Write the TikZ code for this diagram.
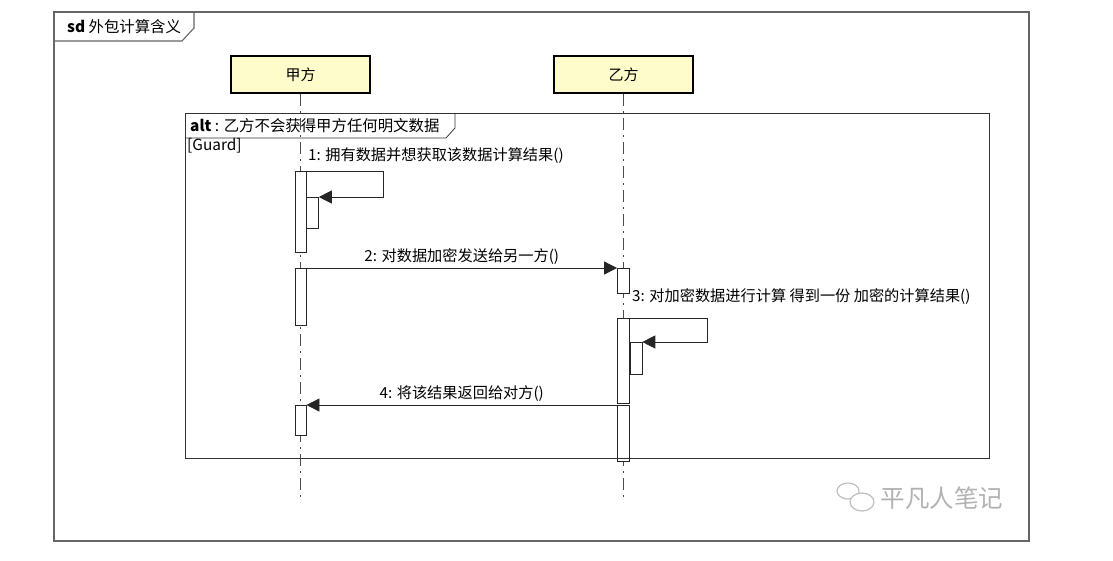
\documentclass[tikz,border=0pt]{standalone}
\usepackage{fontspec}
\setmainfont{Noto Sans CJK SC}
\usetikzlibrary{arrows.meta, positioning, calc}

\begin{document}
\begin{tikzpicture}[
    x=1pt, y=-1pt,
    frame/.style={draw=black!60, line width=1.1pt},
    altframe/.style={draw=black!80, line width=0.8pt},
    actor/.style={rectangle, draw=black, line width=2pt, fill=yellow!20, minimum width=139pt, minimum height=37pt, font=\fontsize{15}{17}\selectfont},
    lifeline/.style={draw=black!70, line width=1.1pt, dash pattern=on 12pt off 5pt on 2pt off 5pt},
    bar/.style={rectangle, draw=black!85, fill=white, line width=0.8pt, minimum width=11pt, inner sep=0pt},
    msg/.style={draw=black!85, line width=0.8pt, -{Triangle[length=13pt, width=13pt]}},
    lb/.style={font=\fontsize{15.2}{17}\selectfont, inner sep=1pt},
    tab/.style={font=\fontsize{15.4}{17}\selectfont, inner sep=1pt, anchor=west}
]
\useasboundingbox (0,0) rectangle (1113,560);

% outer frame
\draw[frame] (54,12) rectangle (1029,541);
\draw[frame] (54,41) -- (182,41) -- (194,28) -- (194,12);
\node[tab] (sd) at (66,27) {\textbf{sd} 外包计算含义};

% participants
\node[actor] (A) at (300.5,74.5) {甲方};
\node[actor] (B) at (623.5,74.5) {乙方};
\coordinate (end) at (0,502);
\draw[lifeline] (A.south) -- (A.south |- end);
\draw[lifeline] (B.south) -- (B.south |- end);

% activations
\node[bar, minimum height=81pt, anchor=north] (a1) at (300.5,171) {};
\node[bar, minimum width=12pt, minimum height=31pt, anchor=north west] (a1s) at (306,197) {};
\node[bar, minimum height=57pt, anchor=north] (a2) at (300.5,268) {};
\node[bar, minimum height=30pt, anchor=north] (a3) at (300.5,405) {};
\node[bar, minimum width=12pt, minimum height=25pt, anchor=north] (b1) at (623.5,268) {};
\node[bar, minimum width=12pt, minimum height=85pt, anchor=north] (b2) at (623.5,318) {};
\node[bar, minimum width=12pt, minimum height=32pt, anchor=north west] (b2s) at (629.5,342) {};
\node[bar, minimum width=12pt, minimum height=56pt, anchor=north] (b3) at (623.5,405) {};

% messages
\node[lb, anchor=west] (m1) at (307,156) {1: 拥有数据并想获取该数据计算结果()};
\draw[msg] (a1.north east) -- ++(77,0) |- (a1s.north east);

\draw[msg] (a2.north east) -- (b1.north west)
    node[lb, midway, above=2pt] (m2) {2: 对数据加密发送给另一方()};

\node[lb, anchor=west] (m3) at (631,297) {3: 对加密数据进行计算 得到一份 加密的计算结果()};
\draw[msg] (b2.north east) -- ++(77,0) |- (b2s.north east);

\draw[msg] (b3.north west) -- (a3.north east)
    node[lb, midway, above=2pt] (m4) {4: 将该结果返回给对方()};

% alt fragment
\draw[altframe] (185,113) rectangle (989,458);
\draw[altframe] (185,138) -- (446,138) -- (455,128) -- (455,113);
\node[tab] (alt) at (189,126) {\textbf{alt} : 乙方不会获得甲方任何明文数据};
\node[tab] (guard) at (186,146) {[Guard]};

% watermark
\draw[black!25, line width=1.2pt, fill=white] (848,491) ellipse (11 and 8);
\draw[black!25, line width=1.2pt, fill=white] (862,502) ellipse (12 and 9);
\node[font=\fontsize{24.5}{26}\selectfont, text=black!30, anchor=west] (wm) at (877,498) {平凡人笔记};
\end{tikzpicture}
\end{document}
